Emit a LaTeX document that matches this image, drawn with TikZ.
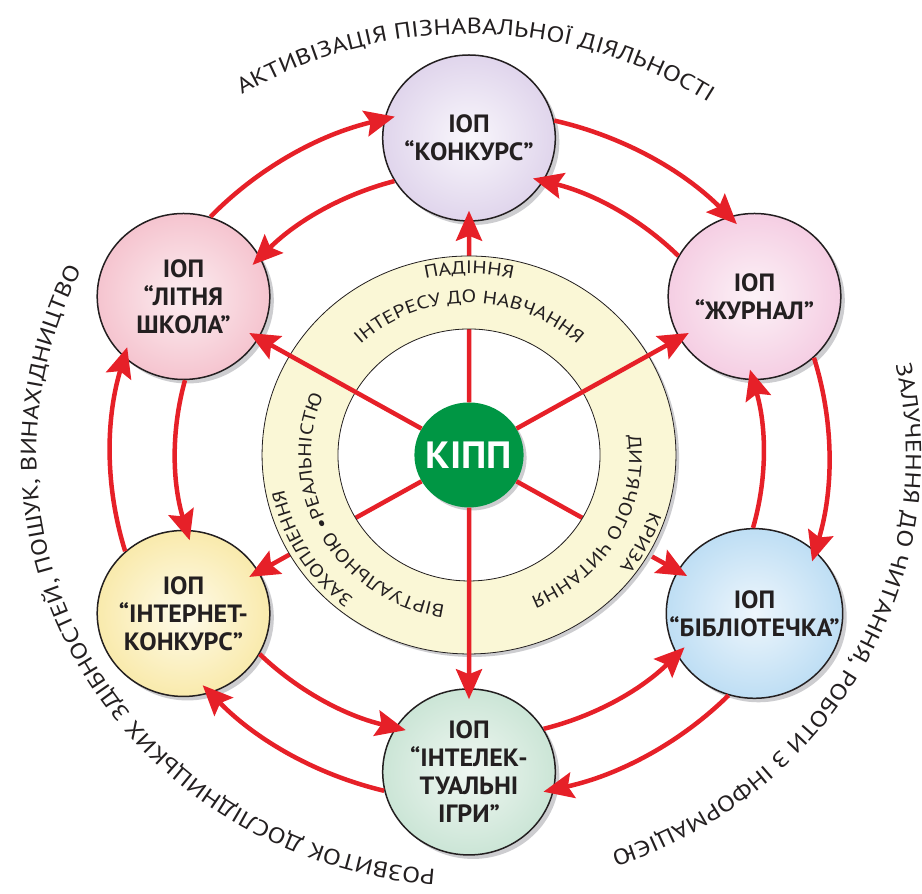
\documentclass[tikz,border=0pt]{standalone}
\usepackage{fontspec}
\setmainfont{PT Sans}
\newfontfamily\widefont[FakeStretch=1.19]{PT Sans}
\usetikzlibrary{arrows.meta,decorations.text,shadows}
\definecolor{arrred}{RGB}{230,32,40}
\definecolor{kippgreen}{RGB}{0,150,68}
\definecolor{txt}{RGB}{35,31,32}
\definecolor{ringfill}{RGB}{250,247,214}
\definecolor{shgray}{RGB}{205,205,208}
\definecolor{kIn}{RGB}{249,247,252}\definecolor{kOut}{RGB}{224,213,236}
\definecolor{zIn}{RGB}{252,242,247}\definecolor{zOut}{RGB}{245,206,227}
\definecolor{bIn}{RGB}{238,246,252}\definecolor{bOut}{RGB}{190,222,244}
\definecolor{iIn}{RGB}{240,247,242}\definecolor{iOut}{RGB}{203,229,214}
\definecolor{nIn}{RGB}{254,251,234}\definecolor{nOut}{RGB}{249,234,172}
\definecolor{lIn}{RGB}{252,238,241}\definecolor{lOut}{RGB}{245,196,207}
\begin{document}
\begin{tikzpicture}[x=1pt,y=1pt,xscale=1.04,transform shape,
  sat/.style={circle, draw=txt, line width=1.5pt, minimum size=166pt, inner sep=0pt,
    align=center, text=txt, font=\bfseries\fontsize{25}{28}\selectfont,
    drop shadow={shadow xshift=4pt, shadow yshift=-4pt, fill=shgray, opacity=1}},
  kipp/.style={circle, fill=kippgreen, minimum size=105pt, inner sep=0pt, text=white,
    font=\bfseries\fontsize{38}{38}\selectfont,
    drop shadow={shadow xshift=3pt, shadow yshift=-3pt, fill=shgray, opacity=1}},
  arr/.style={draw=arrred, line width=4.5pt, -{Stealth[length=30pt, width=26pt, inset=5pt]},
    shorten >=-11pt},
  radial/.style={arr},
  outerarc/.style={arr, bend left=16.4, looseness=0.87},
  innerarc/.style={arr, bend right=15.5, looseness=0.87},
  curvetext/.style={decorate, decoration={text along path, text align=center, text color=txt}}
]
\useasboundingbox (-451,-439) rectangle (435.6,455);
\coordinate (O) at (0,0);
% satellites
\node[sat, inner color=kIn, outer color=kOut] (K) at (90:317) {ІОП\\“КОНКУРС”};
\node[sat, inner color=zIn, outer color=zOut] (Z) at (30:317) {ІОП\\“ЖУРНАЛ”};
\node[sat, inner color=bIn, outer color=bOut] (B) at (-30:317) {ІОП\\“БІБЛІОТЕЧКА”};
\node[sat, inner color=iIn, outer color=iOut] (I) at (-90:317) {ІОП\\“ІНТЕЛЕК-\\ТУАЛЬНІ\\ІГРИ”};
\node[sat, inner color=nIn, outer color=nOut] (N) at (210:317) {ІОП\\“ІНТЕРНЕТ-\\КОНКУРС”};
\node[sat, inner color=lIn, outer color=lOut] (L) at (150:317) {ІОП\\“ЛІТНЯ\\ШКОЛА”};
\node[kipp] (C) at (O) {КІПП};
% radial arrows hidden behind the ring
\draw[radial] (C) -- (K);
\draw[radial] (C) -- (B);
\draw[radial] (C) -- (N);
% ring
\fill[shgray, even odd rule] (3,-3) circle[radius=199] (0,0) circle[radius=126];
\path[fill=ringfill, draw=txt, line width=0.8pt, even odd rule] (0,0) circle[radius=199] (0,0) circle[radius=126];
% ring texts
\path[curvetext, decoration={text={|\widefont\fontsize{18}{18}\selectfont|ПАДІННЯ}}] (180:181) arc[start angle=180, end angle=0, radius=181];
\path[curvetext, decoration={text={|\widefont\fontsize{18}{18}\selectfont|ІНТЕРЕСУ ДО НАВЧАННЯ}}] (180:152) arc[start angle=180, end angle=0, radius=152];
\path[curvetext, decoration={text={|\widefont\fontsize{18}{18}\selectfont|ЗАХОПЛЕННЯ}}] (300.7:181) arc[start angle=300.7, end angle=120.7, radius=181];
\path[curvetext, decoration={text={|\widefont\fontsize{18}{18}\selectfont|ВІРТУАЛЬНОЮ •РЕАЛЬНІСТЮ}}] (298.8:152) arc[start angle=298.8, end angle=118.8, radius=152];
\path[curvetext, decoration={text={|\widefont\fontsize{18}{18}\selectfont|КРИЗА}}] (63:183) arc[start angle=63, end angle=-117, radius=183];
\path[curvetext, decoration={text={|\widefont\fontsize{18}{18}\selectfont|ДИТЯЧОГО ЧИТАННЯ}}] (60.5:154) arc[start angle=60.5, end angle=-119.5, radius=154];
% outer texts
\path[curvetext, decoration={text={|\widefont\fontsize{22}{22}\selectfont|АКТИВІЗАЦІЯ ПІЗНАВАЛЬНОЇ ДІЯЛЬНОСТІ}}] (179:421) arc[start angle=179, end angle=-1, radius=421];
\path[curvetext, decoration={text={|\widefont\fontsize{22}{22}\selectfont|ЗАЛУЧЕННЯ ДО ЧИТАННЯ, РОБОТИ З ІНФОРМАЦІЄЮ}}] (61.25:420) arc[start angle=61.25, end angle=-118.75, radius=420];
\path[curvetext, decoration={text={|\widefont\fontsize{22}{22}\selectfont|РОЗВИТОК ДОСЛІДНИЦЬКИХ ЗДІБНОСТЕЙ, ПОШУК, ВИНАХІДНИЦТВО}}] (299.3:416) arc[start angle=299.3, end angle=119.3, radius=416];
% radial arrows over the ring
\draw[radial] (C) -- (L);
\draw[radial] (C) -- (Z);
\draw[radial] (C) -- (I);
% outer arcs (clockwise)
\draw[outerarc] (L.72.8) to (K.167.2);
\draw[outerarc] (K.12.8) to (Z.107.2);
\draw[outerarc] (Z.-47.2) to (B.47.2);
\draw[outerarc] (B.-107.2) to (I.-12.8);
\draw[outerarc] (I.-167.2) to (N.-72.8);
\draw[outerarc] (N.132.8) to (L.227.2);
% inner arcs (counterclockwise)
\draw[innerarc] (K.211.2) to (L.28.8);
\draw[innerarc] (Z.151.2) to (K.-31.2);
\draw[innerarc] (B.91.2) to (Z.-91.2);
\draw[innerarc] (I.31.2) to (B.-151.2);
\draw[innerarc] (N.331.2) to (I.148.8);
\draw[innerarc] (L.271.2) to (N.88.8);
\end{tikzpicture}
\end{document}
